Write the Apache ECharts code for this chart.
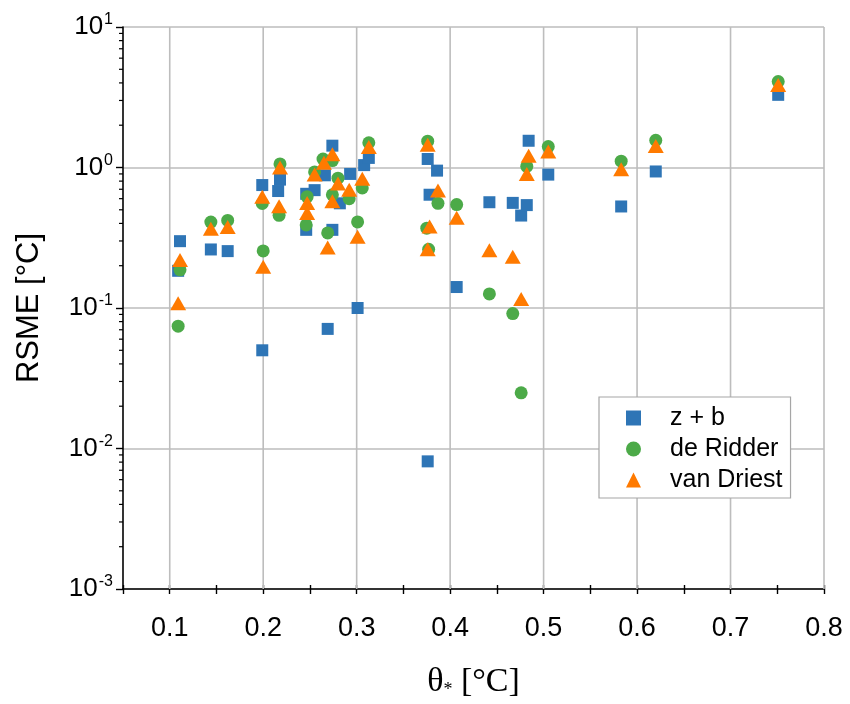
<!DOCTYPE html>
<html><head><meta charset="utf-8">
<script src="https://cdn.jsdelivr.net/npm/echarts@6/dist/echarts.min.js"></script>
<style>html,body{margin:0;padding:0;background:#fff}#c{width:850px;height:704px}</style>
</head><body><div id="c"></div>
<script>
const seriesNames = ['z + b', 'de Ridder', 'van Driest'];
const seriesColors = ['#2E75B6', '#4CAA48', '#FF7A00'];

const zbData = [
  [0.111, 0.299], [0.109, 0.184], [0.144, 0.261], [0.162, 0.254], [0.199, 0.75], [0.199, 0.050],
  [0.218, 0.82], [0.216, 0.68], [0.246, 0.65], [0.246, 0.36], [0.255, 0.69], [0.266, 0.88],
  [0.274, 1.43], [0.274, 0.36], [0.269, 0.071], [0.282, 0.556], [0.293, 0.90], [0.301, 0.100],
  [0.308, 1.04], [0.313, 1.17], [0.376, 1.15], [0.378, 0.64], [0.376, 0.0081], [0.386, 0.95],
  [0.407, 0.141], [0.442, 0.566], [0.467, 0.56], [0.476, 0.455], [0.482, 0.54], [0.484, 1.55],
  [0.505, 0.89], [0.583, 0.528], [0.620, 0.937], [0.751, 3.29]
];
const deRidderData = [
  [0.111, 0.187], [0.109, 0.0743], [0.144, 0.409], [0.162, 0.42], [0.199, 0.555], [0.200, 0.255],
  [0.218, 1.06], [0.217, 0.457], [0.247, 0.62], [0.246, 0.39], [0.255, 0.93], [0.264, 1.15],
  [0.274, 1.12], [0.269, 0.342], [0.274, 0.64], [0.280, 0.84], [0.292, 0.60], [0.301, 0.41],
  [0.306, 0.716], [0.313, 1.50], [0.376, 1.54], [0.375, 0.37], [0.377, 0.262], [0.387, 0.556],
  [0.407, 0.545], [0.442, 0.126], [0.467, 0.0912], [0.476, 0.0249], [0.482, 1.02], [0.505, 1.41],
  [0.583, 1.11], [0.620, 1.56], [0.751, 4.09]
];
const vanDriestData = [
  [0.111, 0.22], [0.109, 0.108], [0.144, 0.367], [0.162, 0.377], [0.199, 0.62], [0.200, 0.197],
  [0.218, 1.0], [0.217, 0.53], [0.247, 0.56], [0.247, 0.475], [0.255, 0.89], [0.265, 1.08],
  [0.274, 1.24], [0.269, 0.27], [0.274, 0.575], [0.280, 0.77], [0.292, 0.695], [0.301, 0.321],
  [0.306, 0.83], [0.313, 1.40], [0.376, 1.45], [0.378, 0.38], [0.376, 0.262], [0.387, 0.685],
  [0.407, 0.439], [0.442, 0.258], [0.467, 0.232], [0.476, 0.116], [0.484, 1.21], [0.482, 0.90],
  [0.505, 1.30], [0.583, 0.973], [0.620, 1.42], [0.751, 3.87]
];

const xMin = 0.05, xMax = 0.8, xTickStep = 0.05;
const xGridValues = [0.1, 0.2, 0.3, 0.4, 0.5, 0.6, 0.7, 0.8];
const yMin = 0.001, yMax = 10;
const yMinorMultipliers = [2, 3, 4, 5, 6, 7, 8, 9];
const yDecades = [0.001, 0.01, 0.1, 1];

const yMinorValues = [];
yDecades.forEach(d => yMinorMultipliers.forEach(m => yMinorValues.push(d * m)));

const chart = echarts.init(document.getElementById('c'), null, {renderer: 'canvas'});
const sansFont = "'Liberation Sans', Arial, sans-serif";
const narrowFont = "'Liberation Sans Narrow', 'Liberation Sans', Arial, sans-serif";
const serifFont = "'Liberation Serif', 'Times New Roman', serif";

const option = {
  backgroundColor: '#ffffff',
  animation: false,
  grid: {left: 123, right: 26, top: 27, bottom: 113, containLabel: false},
  legend: {
    data: seriesNames,
    orient: 'vertical',
    left: 599, top: 397,
    padding: [7, 8, 4, 27],
    itemGap: 3,
    itemWidth: 15, itemHeight: 15,
    borderColor: '#a6a6a6', borderWidth: 1.2,
    backgroundColor: '#ffffff',
    textStyle: {fontFamily: sansFont, fontSize: 25, color: '#000', lineHeight: 28, padding: [0, 0, 0, 24]}
  },
  xAxis: [{
    type: 'value', min: xMin, max: xMax, interval: xTickStep,
    axisLine: {show: true, onZero: false, lineStyle: {color: '#000', width: 1.6}},
    axisTick: {show: true, inside: false, length: 5, lineStyle: {color: '#000', width: 1.4}},
    splitLine: {show: false},
    axisLabel: {
      margin: 26, fontFamily: narrowFont, fontSize: 27, color: '#000',
      formatter: v => (Math.round(v * 100) % 10 === 0 ? v.toFixed(1) : '')
    },
    name: '{t|θ}{sub|*}{t| [°C]}',
    nameLocation: 'middle', nameGap: 76,
    nameTextStyle: {
      rich: {
        t: {fontFamily: serifFont, fontSize: 34, color: '#000'},
        sub: {fontFamily: serifFont, fontSize: 18, color: '#000', padding: [16, 0, 0, 0]}
      }
    }
  }, {
    type: 'value', min: xMin, max: xMax, interval: xTickStep, position: 'bottom',
    axisLine: {show: false, onZero: false},
    axisTick: {show: true, inside: true, length: 4, lineStyle: {color: '#000', width: 1.4}},
    axisLabel: {show: false}, splitLine: {show: false}
  }],
  yAxis: [{
    type: 'log', logBase: 10, min: yMin, max: yMax,
    axisLine: {show: true, onZero: false, lineStyle: {color: '#000', width: 1.6}},
    axisTick: {show: true, inside: false, length: 7, lineStyle: {color: '#000', width: 1.4}},
    splitLine: {show: true, lineStyle: {color: '#bdbdbd', width: 1.6}},
    axisLabel: {
      margin: 10, color: '#000',
      formatter: v => '{b|10}{s|' + Math.round(Math.log10(v)) + '}',
      rich: {
        b: {fontFamily: sansFont, fontSize: 26, color: '#000'},
        s: {fontFamily: sansFont, fontSize: 16, color: '#000', padding: [0, 0, 14, 1]}
      }
    },
    name: 'RSME [°C]',
    nameLocation: 'middle', nameGap: 78, nameRotate: 90,
    nameTextStyle: {fontFamily: sansFont, fontSize: 31, color: '#000'}
  }],
  series: [
    {
      type: 'custom', name: 'xgrid', silent: true, z: 1, clip: false,
      data: xGridValues.map(v => [v, 1]),
      renderItem: (params, api) => {
        const v = api.value(0);
        const p1 = api.coord([v, yMax]);
        const p2 = api.coord([v, yMin]);
        return {type: 'line', shape: {x1: p1[0], y1: p1[1], x2: p2[0], y2: p2[1]},
          style: {stroke: '#bdbdbd', lineWidth: 1.6}};
      }
    },
    {
      type: 'custom', name: 'yminor', silent: true, z: 3, clip: false,
      data: yMinorValues.map(v => [xMin, v]),
      renderItem: (params, api) => {
        const p = api.coord([xMin, api.value(1)]);
        return {type: 'line', shape: {x1: p[0] - 4, y1: p[1], x2: p[0], y2: p[1]},
          style: {stroke: '#000', lineWidth: 1.2}};
      }
    },
    {type: 'scatter', name: seriesNames[0], data: zbData, symbol: 'rect', symbolSize: 12,
      itemStyle: {color: seriesColors[0], opacity: 1}},
    {type: 'scatter', name: seriesNames[1], data: deRidderData, symbol: 'circle', symbolSize: 13,
      itemStyle: {color: seriesColors[1], opacity: 1}},
    {type: 'scatter', name: seriesNames[2], data: vanDriestData, symbol: 'triangle', symbolSize: [16, 14],
      itemStyle: {color: seriesColors[2], opacity: 1}}
  ]
};
chart.setOption(option);
</script>
</body></html>
